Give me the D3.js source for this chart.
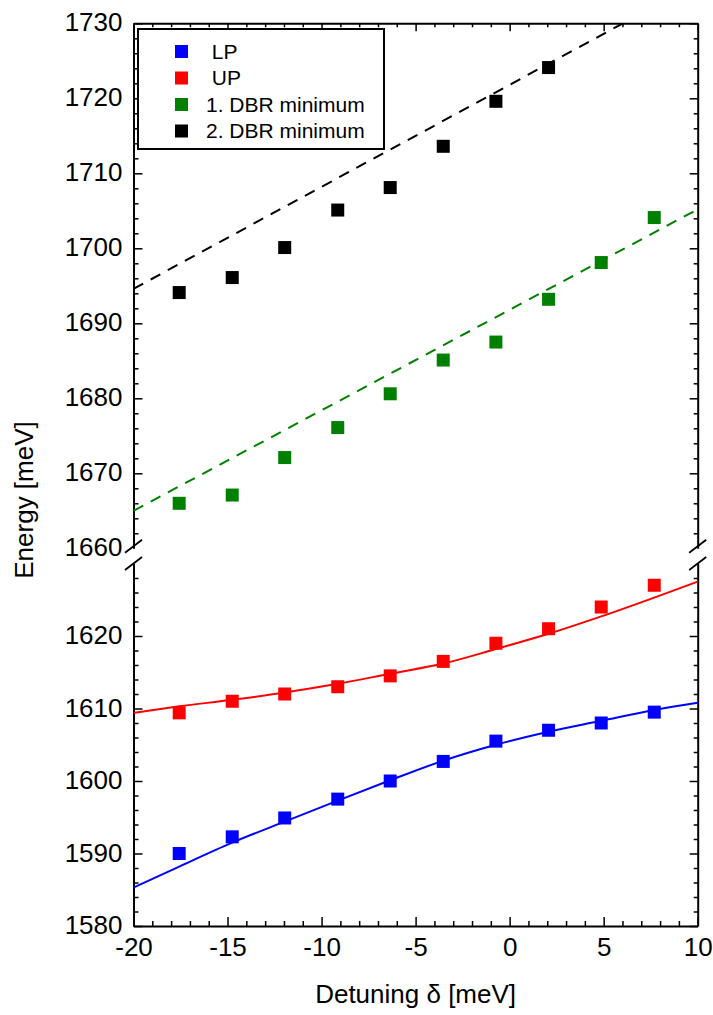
<!DOCTYPE html>
<html>
<head>
<meta charset="utf-8">
<script src="https://cdn.jsdelivr.net/npm/d3@7"></script>
<style>
  body { margin: 0; background: #fff; }
  svg { display: block; font-family: "Liberation Sans", Arial, sans-serif; }
  .axis path, .axis line { stroke: #000; }
</style>
</head>
<body>
<svg id="chart" width="713" height="1015"></svg>
<script>
// measured values
const detuning = [-17.57, -14.75, -11.96, -9.14, -6.35, -3.53, -0.73, 2.07, 4.87, 7.69];
const lpEnergy = [1590.0, 1592.3, 1594.9, 1597.5, 1600.0, 1602.7, 1605.5, 1607.0, 1608.0, 1609.5];
const upEnergy = [1609.4, 1611.0, 1612.0, 1613.0, 1614.5, 1616.5, 1619.0, 1621.0, 1624.0, 1627.0];
const dbr1Energy = [1666.0, 1667.1, 1672.1, 1676.1, 1680.6, 1685.1, 1687.5, 1693.2, 1698.1, 1704.1];
const dbr2Energy = [1694.1, 1696.1, 1700.1, 1705.1, 1708.1, 1713.6, 1719.6, 1724.1];

// fit curves
const fitDetuning = [-20, -17.57, -14.75, -11.96, -9.14, -6.35, -3.53, -0.73, 2.07, 4.87, 7.69, 10];
const upFit = [1609.4, 1610.3, 1611.2, 1612.2, 1613.4, 1614.8, 1616.2, 1618.2, 1620.3, 1622.7, 1625.3, 1627.5];
const lpFit = [1585.3, 1588.2, 1591.5, 1594.4, 1597.3, 1600.1, 1602.8, 1605.0, 1606.8, 1608.3, 1609.8, 1610.8];

// dashed DBR lines (end points)
const dbr1Line = [[-20, 1665.0], [10, 1705.2]];
const dbr2Line = [[-20, 1694.6], [10, 1735.4]];

const legendNames = [" LP", " UP", "1. DBR minimum", "2. DBR minimum"];
const legendColors = ["#0000ff", "#ff0000", "#008000", "#000000"];

const svg = d3.select("#chart");
const mLeft = 133.5, mRight = 697.7, mTop = 23.3, mBottom = 926;
const upBottom = 548.3, loTop = 563.5;

const x = d3.scaleLinear().domain([-20, 10]).range([mLeft, mRight]);
const yUp = d3.scaleLinear().domain([1660, 1730]).range([upBottom, mTop]);
const yLo = d3.scaleLinear().domain([1580, 1630]).range([mBottom, loTop]);

const xMajor = d3.range(-20, 11, 5);
const xMinor = d3.range(-20, 11, 1).filter(d => d % 5 !== 0);
const upMajor = d3.range(1660, 1731, 10);
const upMinor = d3.range(1662, 1730, 2).filter(d => d % 10 !== 0);
const loMajor = d3.range(1580, 1621, 10);
const loMinor = d3.range(1582, 1630, 2).filter(d => d % 10 !== 0);

function styleAxis(g) {
    g.attr("class", "axis");
    g.select(".domain").attr("stroke-width", 2);
    g.selectAll(".tick line").attr("stroke-width", 1.5);
    g.selectAll("text").attr("font-size", 26).attr("fill", "#000")
        .attr("font-family", "'Liberation Sans', Arial, sans-serif");
}

// bottom (plain hyphen for negatives, like the original)
svg.append("g").attr("transform", `translate(0,${mBottom})`)
    .call(d3.axisBottom(x).tickValues(xMajor).tickSize(-9).tickSizeOuter(0).tickFormat(d => String(d)))
    .call(g => styleAxis(g))
    .call(g => g.selectAll("text").attr("y", 30).attr("dy", null));
svg.append("g").attr("transform", `translate(0,${mBottom})`)
    .call(d3.axisBottom(x).tickValues(xMinor).tickSize(-5).tickFormat(""))
    .call(g => styleAxis(g)).call(g => g.select(".domain").remove());

// top
svg.append("g").attr("transform", `translate(0,${mTop})`)
    .call(d3.axisTop(x).tickValues(xMajor).tickSize(-8).tickSizeOuter(0).tickFormat(""))
    .call(g => styleAxis(g));
svg.append("g").attr("transform", `translate(0,${mTop})`)
    .call(d3.axisTop(x).tickValues(xMinor).tickSize(-4).tickFormat(""))
    .call(g => styleAxis(g)).call(g => g.select(".domain").remove());

// left and right, two segments each
[[yUp, upMajor, upMinor], [yLo, loMajor, loMinor]].forEach(([y, major, minor]) => {
    svg.append("g").attr("transform", `translate(${mLeft},0)`)
        .call(d3.axisLeft(y).tickValues(major).tickSize(-9).tickSizeOuter(0).tickFormat(d3.format("d")))
        .call(g => styleAxis(g))
        .call(g => g.selectAll(".tick text").attr("x", -11).attr("dy", 7.5))
        .call(g => g.selectAll(".tick line").filter(d => d === 1660).remove());
    svg.append("g").attr("transform", `translate(${mLeft},0)`)
        .call(d3.axisLeft(y).tickValues(minor).tickSize(-5).tickFormat(""))
        .call(g => styleAxis(g)).call(g => g.select(".domain").remove());

    svg.append("g").attr("transform", `translate(${mRight},0)`)
        .call(d3.axisRight(y).tickValues(major.filter(d => d !== 1660)).tickSize(-8).tickSizeOuter(0).tickFormat(""))
        .call(g => styleAxis(g));
    svg.append("g").attr("transform", `translate(${mRight},0)`)
        .call(d3.axisRight(y).tickValues(minor).tickSize(-4).tickFormat(""))
        .call(g => styleAxis(g)).call(g => g.select(".domain").remove());
});

// break marks
[mLeft, mRight].forEach(xb => {
    [upBottom - 2, loTop].forEach(yb => {
        svg.append("line")
            .attr("x1", xb - 8.5).attr("y1", yb + 6.5)
            .attr("x2", xb + 8.5).attr("y2", yb - 6.5)
            .attr("stroke", "#000").attr("stroke-width", 1.8);
    });
});

// clip paths
const defs = svg.append("defs");
defs.append("clipPath").attr("id", "clipUp").append("rect")
    .attr("x", mLeft).attr("y", mTop).attr("width", mRight - mLeft).attr("height", upBottom - mTop);
defs.append("clipPath").attr("id", "clipLo").append("rect")
    .attr("x", mLeft).attr("y", loTop).attr("width", mRight - mLeft).attr("height", mBottom - loTop);

// dashed lines
const lineUp = d3.line().x(d => x(d[0])).y(d => yUp(d[1]));
const upLayer = svg.append("g").attr("clip-path", "url(#clipUp)");
[[dbr1Line, "#008000"], [dbr2Line, "#000000"]].forEach(([pts, c]) => {
    upLayer.append("path").attr("d", lineUp(pts))
        .attr("fill", "none").attr("stroke", c).attr("stroke-width", 2)
        .attr("stroke-dasharray", "11,8.5");
});

// fit curves
const fitLine = d3.line().x((d, i) => x(fitDetuning[i])).y(d => yLo(d)).curve(d3.curveMonotoneX);
const loLayer = svg.append("g").attr("clip-path", "url(#clipLo)");
[[upFit, "#ff0000"], [lpFit, "#0000ff"]].forEach(([vals, c]) => {
    loLayer.append("path").attr("d", fitLine(vals))
        .attr("fill", "none").attr("stroke", c).attr("stroke-width", 2);
});

// markers
const s = 13;
function squares(vals, y, color) {
    svg.append("g").selectAll("rect")
        .data(vals)
        .join("rect")
        .attr("x", (d, i) => x(detuning[i]) - s / 2)
        .attr("y", d => y(d) - s / 2)
        .attr("width", s).attr("height", s)
        .attr("fill", color);
}
squares(dbr2Energy, yUp, "#000000");
squares(dbr1Energy, yUp, "#008000");
squares(upEnergy, yLo, "#ff0000");
squares(lpEnergy, yLo, "#0000ff");

// legend
const legend = svg.append("g");
legend.append("rect").attr("x", 138).attr("y", 29).attr("width", 246).attr("height", 120)
    .attr("fill", "#fff").attr("stroke", "#000").attr("stroke-width", 2);
const rowY = d3.scalePoint().domain(legendNames).range([51.5, 131]);
legend.selectAll(".item").data(legendNames).join("g")
    .each(function (d, i) {
        const g = d3.select(this);
        g.append("rect").attr("x", 181.5 - s / 2).attr("y", rowY(d) - s / 2)
            .attr("width", s).attr("height", s).attr("fill", legendColors[i]);
        g.append("text").attr("x", 206).attr("y", rowY(d) + 7)
            .attr("font-size", 21)
            .style("white-space", "pre").text(d);
    });

// axis titles
svg.append("text").attr("x", (mLeft + mRight) / 2).attr("y", 1003)
    .attr("text-anchor", "middle").attr("font-size", 26).text("Detuning δ [meV]");
svg.append("text").attr("transform", "translate(33,500) rotate(-90)")
    .attr("text-anchor", "middle").attr("font-size", 26).text("Energy [meV]");
</script>
</body>
</html>
